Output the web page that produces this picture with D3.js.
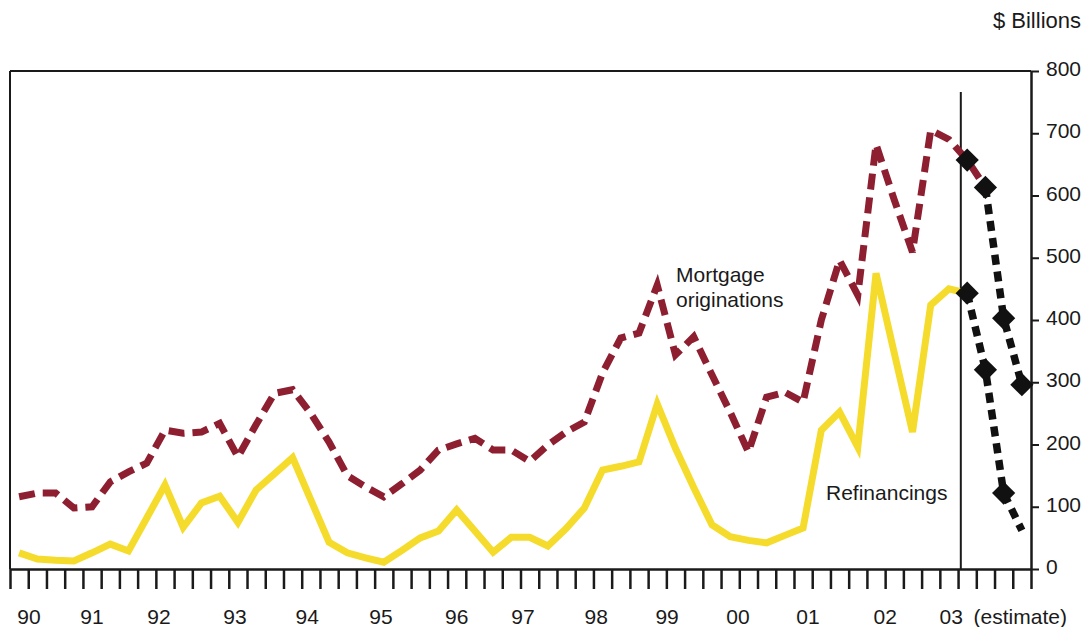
<!DOCTYPE html>
<html>
<head>
<meta charset="utf-8">
<script src="https://cdn.jsdelivr.net/npm/d3@7"></script>
<style>
  html, body { margin: 0; padding: 0; background: #fff; }
  text { font-family: "Liberation Sans", Arial, Helvetica, sans-serif; fill: #1a1a1a; }
</style>
</head>
<body>
<svg id="chart" width="1086" height="627"></svg>
<script>
// Quarterly series, 1990 Q1 .. 2003 Q1 (index 0 = 1990 Q1), $ billions
const mortgageOriginations = [
  116, 122, 122, 98, 100, 140, 156, 170,
  223, 218, 220, 234, 180, 232, 282, 288,
  250, 204, 150, 132, 116, 137, 159, 191,
  201, 210, 191, 191, 173, 199, 220, 236,
  315, 371, 379, 456, 344, 373, 312, 252,
  188, 276, 284, 268, 400, 496, 440, 682,
  593, 509, 705, 690, 657
];
const refinancings = [
  26, 16, 14, 13, 26, 40, 29, 82,
  135, 67, 106, 117, 75, 127, 153, 179,
  111, 43, 26, 18, 11, 30, 50, 61,
  95, 61, 27, 51, 51, 37, 65, 98,
  159, 165, 172, 265, 194, 131, 71, 52,
  46, 42, 54, 66, 223, 252, 196, 475,
  347, 220, 424, 450, 443
];

// 2003 estimates, quarters 52..55
const estimateQuarters = [52, 53, 54, 55];
const mortgageEstimate = [657, 613, 403, 296];
const refinancingEstimate = [443, 320, 122, 62];
const mortgageMarked = [true, true, true, true];
const refinancingMarked = [true, true, true, false];

// Axis labels
const yearLabels = ["90", "91", "92", "93", "94", "95", "96", "97", "98", "99", "00", "01", "02", "03"];
const yearLabelQuarter = [1.04, 4.5, 8.17, 12.34, 16.3, 20.35, 24.5, 28.14, 32.15, 36.04, 39.93, 43.77, 48.0, 51.62];
const valueTicks = [0, 100, 200, 300, 400, 500, 600, 700, 800];
const estimateDivider = 52.15;

const svg = d3.select("#chart");
const x = d3.scaleLinear().domain([0, 56]).range([10, 1031]);
const y = d3.scaleLinear().domain([0, 800]).range([569, 71]);
const ink = "#1a1a1a";
const crimson = "#8e1f30";
const yellow = "#f5dc2c";

// Frame: top and left edges
svg.append("line")
  .attr("x1", x(0)).attr("x2", x(56))
  .attr("y1", y(800)).attr("y2", y(800))
  .attr("stroke", ink).attr("stroke-width", 2);
svg.append("line")
  .attr("x1", x(0)).attr("x2", x(0))
  .attr("y1", y(800)).attr("y2", y(0))
  .attr("stroke", ink).attr("stroke-width", 2);

// Bottom axis: one tick per quarter
const bottom = svg.append("g")
  .attr("transform", `translate(0,${y(0)})`)
  .call(d3.axisBottom(x).tickValues(d3.range(0, 57)).tickSize(20).tickSizeOuter(0).tickFormat(""));
bottom.select(".domain").attr("stroke", ink).attr("stroke-width", 2.5);
bottom.selectAll(".tick line").attr("stroke", ink).attr("stroke-width", 2.5);

// Right axis
const right = svg.append("g")
  .attr("transform", `translate(${x(56)},0)`)
  .call(d3.axisRight(y).tickValues(valueTicks).tickSize(8).tickSizeOuter(0).tickPadding(7));
right.select(".domain").attr("stroke", ink).attr("stroke-width", 2.5);
right.selectAll(".tick line").attr("stroke", ink).attr("stroke-width", 2);
right.selectAll(".tick text")
  .style("font-family", '"Liberation Sans", Arial, sans-serif')
  .style("font-size", "21px").attr("fill", ink)
  .attr("dy", "0.22em");

svg.append("text")
  .attr("x", 1081).attr("y", 28)
  .attr("text-anchor", "end")
  .style("font-size", "22px")
  .text("$ Billions");

// Year labels
svg.append("g").selectAll("text")
  .data(yearLabels)
  .join("text")
  .attr("x", (d, i) => x(yearLabelQuarter[i]))
  .attr("y", 624)
  .attr("text-anchor", "middle")
  .style("font-size", "21px")
  .text(d => d);
svg.append("text")
  .attr("x", x(52.85)).attr("y", 624)
  .attr("text-anchor", "start")
  .style("font-size", "21px")
  .text("(estimate)");

// Divider between actual and estimated quarters
svg.append("line")
  .attr("x1", x(estimateDivider)).attr("x2", x(estimateDivider))
  .attr("y1", 92).attr("y2", y(0))
  .attr("stroke", ink).attr("stroke-width", 2);

const line = d3.line().x(d => x(d[0] + 0.5)).y(d => y(d[1])).curve(d3.curveLinear);

// Refinancings (solid yellow)
svg.append("path")
  .datum(refinancings.map((v, i) => [i, v]))
  .attr("d", line)
  .attr("fill", "none")
  .attr("stroke", yellow)
  .attr("stroke-width", 7)
  .attr("stroke-linejoin", "miter");

// Mortgage originations (dashed crimson), runs into the first estimate quarter
const mortgagePts = mortgageOriginations.map((v, i) => [i, v]);
mortgagePts.push([estimateQuarters[1], mortgageEstimate[1]]);
svg.append("path")
  .datum(mortgagePts)
  .attr("d", line)
  .attr("fill", "none")
  .attr("stroke", crimson)
  .attr("stroke-width", 7)
  .attr("stroke-dasharray", "16 8")
  .attr("stroke-linejoin", "miter");

// Estimates (black dotted)
const mortgageEst = estimateQuarters.map((q, i) => [q, mortgageEstimate[i]]);
const refiEst = estimateQuarters.map((q, i) => [q, refinancingEstimate[i]]);
svg.append("path")
  .datum(mortgageEst.slice(1))
  .attr("d", line)
  .attr("fill", "none")
  .attr("stroke", "#111")
  .attr("stroke-width", 7.5)
  .attr("stroke-dasharray", "10 7");
svg.append("path")
  .datum(refiEst)
  .attr("d", line)
  .attr("fill", "none")
  .attr("stroke", "#111")
  .attr("stroke-width", 7.5)
  .attr("stroke-dasharray", "10 7");

// Diamond markers
const diamond = d3.symbol().type(d3.symbolSquare).size(270);
const markers = mortgageEst.filter((d, i) => mortgageMarked[i])
  .concat(refiEst.filter((d, i) => refinancingMarked[i]));
svg.append("g").selectAll("path")
  .data(markers)
  .join("path")
  .attr("d", diamond)
  .attr("transform", d => `translate(${x(d[0] + 0.5)},${y(d[1])}) rotate(45)`)
  .attr("fill", "#111");

// Series labels
const mLabel = svg.append("text")
  .attr("x", 676).attr("y", 282)
  .style("font-size", "21px");
mLabel.append("tspan").attr("x", 676).text("Mortgage");
mLabel.append("tspan").attr("x", 676).attr("dy", 25).text("originations");
svg.append("text")
  .attr("x", 826).attr("y", 500)
  .style("font-size", "21px")
  .text("Refinancings");
</script>
</body>
</html>
